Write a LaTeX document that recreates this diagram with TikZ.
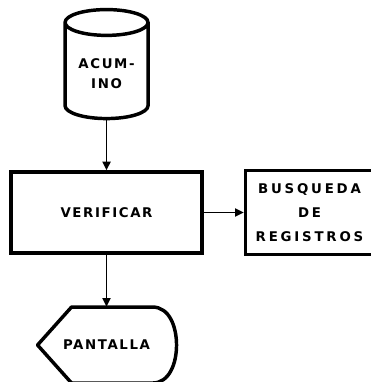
\documentclass[tikz,border=0pt]{standalone}
\usepackage{fontspec}
\newfontfamily\flowfont{DejaVu Sans}[LetterSpace=12]
\newfontfamily\wideflowfont{DejaVu Sans}[LetterSpace=21]
\usetikzlibrary{shapes.geometric, arrows.meta, positioning, calc}
\tikzset{
  boxbase/.style={draw, line width=2.6pt, align=center, inner sep=2pt, font=\flowfont\bfseries\fontsize{10}{18}\selectfont},
  procnode/.style={boxbase, rectangle, minimum width=143.25pt, minimum height=60.75pt},
  subnode/.style={boxbase, rectangle, minimum width=96pt, minimum height=63pt, font=\wideflowfont\bfseries\fontsize{10}{18}\selectfont},
  storenode/.style={boxbase, cylinder, shape border rotate=90, aspect=0.42, minimum width=62.25pt, minimum height=81.75pt, font=\flowfont\bfseries\fontsize{10}{15}\selectfont},
  dispnode/.style={align=center, minimum height=57pt, inner sep=0pt, font=\flowfont\bfseries\fontsize{10}{15}\selectfont},
  displine/.style={line width=2.6pt, line join=round},
  flowarrow/.style={-{Triangle[length=6.5pt,width=6pt]}, line width=1.4pt},
}
\begin{document}
\begin{tikzpicture}
  \useasboundingbox[fill=white] (0,0) rectangle (278.25pt,-286.5pt);
  \node[procnode] (verif) at (79.9pt,-159.4pt) {VERIFICAR};
  \node[subnode, right=30pt of verif] (busq) {BUSQUEDA\\DE\\REGISTROS};
  \node[storenode, above=37.5pt of verif] (acum) {ACUM-\\INO};
  \node[dispnode, below=39pt of verif] (pant) {PANTALLA};
  % display outline round the text
  \draw[displine] ($(pant.center)+(-51.75pt,0)$) -- ($(pant.center)+(-26.25pt,28.5pt)$)
    -- ($(pant.center)+(34.5pt,28.5pt)$)
    .. controls ($(pant.center)+(47pt,28.5pt)$) and ($(pant.center)+(52.5pt,14pt)$) .. ($(pant.center)+(52.5pt,0)$)
    .. controls ($(pant.center)+(52.5pt,-14pt)$) and ($(pant.center)+(47pt,-28.5pt)$) .. ($(pant.center)+(34.5pt,-28.5pt)$)
    -- ($(pant.center)+(-26.25pt,-28.5pt)$) -- cycle;
  \draw[flowarrow] (acum) -- (verif);
  \draw[flowarrow] (verif) -- (busq);
  \draw[flowarrow] (verif) -- (pant);
\end{tikzpicture}
\end{document}
